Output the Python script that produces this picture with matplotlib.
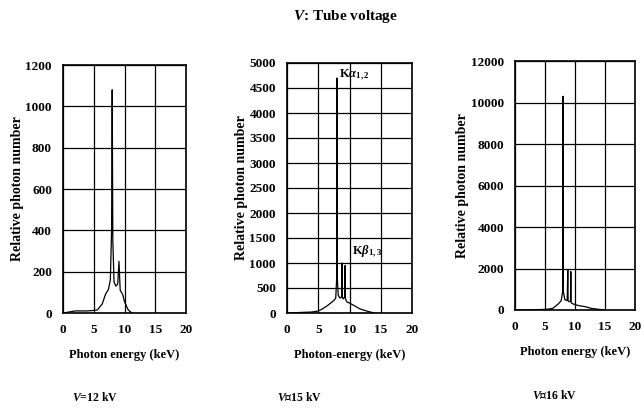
import numpy as np
import matplotlib
matplotlib.use('Agg')
import matplotlib.pyplot as plt

plt.rcParams['font.family'] = ['Liberation Serif', 'DejaVu Serif', 'DejaVu Sans']
plt.rcParams['font.weight'] = 'bold'
plt.rcParams['mathtext.fontset'] = 'custom'
plt.rcParams['mathtext.it'] = 'Liberation Serif:italic:bold'
plt.rcParams['mathtext.rm'] = 'Liberation Serif:bold'

# photon spectra (energy in keV, relative photon number)
energy_12kv = [0, 1, 2, 3, 4, 4.8, 5.6, 6.4, 6.9, 7.4, 7.7, 7.9, 8.0, 8.1, 8.3, 8.6,
               8.9, 9.1, 9.3, 9.7, 10.0, 10.6, 11.2]
counts_12kv = [0, 5, 10, 10, 10, 12, 15, 45, 90, 115, 160, 400, 1080, 350, 150, 130,
               140, 250, 110, 90, 55, 15, 0]

energy_15kv = [0, 2, 4, 5, 5.5, 6, 6.5, 7, 7.5, 7.8, 7.95, 8.0, 8.05, 8.2, 8.5, 8.75,
               8.8, 8.85, 9.0, 9.25, 9.3, 9.35, 9.6, 10.0, 11.0, 11.7, 13.0, 14.0]
counts_15kv = [0, 10, 20, 40, 70, 110, 150, 200, 250, 300, 700, 4700, 700, 350, 300, 320,
               1000, 320, 280, 330, 950, 280, 220, 200, 130, 80, 30, 0]

energy_16kv = [0, 2, 4, 5, 5.5, 6.3, 7.2, 7.7, 7.95, 8.0, 8.05, 8.3, 8.7, 8.8, 8.85,
               9.0, 9.25, 9.3, 9.35, 9.7, 10.5, 11.7, 12.7, 14.0, 15.0]
counts_16kv = [0, 10, 20, 30, 40, 80, 290, 450, 900, 10300, 900, 500, 450, 1950, 450,
               400, 420, 1850, 350, 290, 220, 160, 80, 30, 0]

ymax = [1200, 5000, 12000]
ystep = [200, 500, 2000]
xlabels = ['Photon energy (keV)', 'Photon-energy (keV)', 'Photon energy (keV)']
voltage_labels = ['$V$=12 kV', '$V$\u225215 kV', '$V$\u225216 kV']

fig = plt.figure(figsize=(6.44, 4.11), dpi=100)
W, H = 644.0, 411.0
boxes = [(63, 65, 186, 313), (287, 63, 412, 313), (515, 61, 635, 310)]  # pixel l, t, r, b
spectra = [(energy_12kv, counts_12kv), (energy_15kv, counts_15kv), (energy_16kv, counts_16kv)]
label_pos = [(95, 404), (300, 404), (555, 402)]

for i in range(3):
    l, t, r, b = boxes[i]
    ax = fig.add_axes([l / W, 1 - b / H, (r - l) / W, (b - t) / H])
    e, c = spectra[i]
    ax.plot(e, c, color='black', lw=0.9)
    ax.set_xlim(0, 20)
    ax.set_ylim(0, ymax[i])
    ax.set_xticks([0, 5, 10, 15, 20])
    ax.set_yticks(np.arange(0, ymax[i] + 1, ystep[i]))
    ax.grid(True, color='black', lw=0.9)
    ax.tick_params(length=0, labelsize=9.5, pad=8)
    for s in ax.spines.values():
        s.set_linewidth(1.2)
    ax.set_xlabel(xlabels[i], fontsize=9, fontweight='bold', labelpad=9)
    ax.set_ylabel('Relative photon number', fontsize=10, fontweight='bold', labelpad=1)
    fig.text(label_pos[i][0] / W, 1 - label_pos[i][1] / H, voltage_labels[i],
             fontsize=8.5, ha='center', va='bottom')

# peak labels on the 15 kV spectrum
ax2 = fig.axes[1]
ax2.text(8.3, 4600, r'K$\alpha_{1,2}$', fontsize=9, va='bottom')
ax2.text(10.4, 1050, r'K$\beta_{1,3}$', fontsize=9, va='bottom')

fig.text(345 / W, 1 - 20 / H, '$V$: Tube voltage', fontsize=11, ha='center')

fig.savefig('out.png', dpi=100)
